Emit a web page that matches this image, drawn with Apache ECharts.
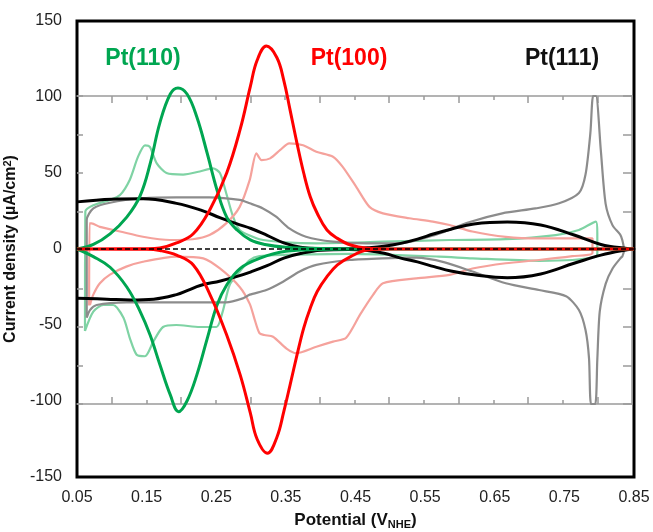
<!DOCTYPE html>
<html><head><meta charset="utf-8">
<script src="https://cdn.jsdelivr.net/npm/echarts@6/dist/echarts.min.js"></script>
<style>html,body{margin:0;padding:0;background:#fff}#c{width:653px;height:532px}</style>
</head><body><div id="c"></div>
<script>
// ---- tick labels / ticks ----
const xLabelValues = [0.05, 0.15, 0.25, 0.35, 0.45, 0.55, 0.65, 0.75, 0.85];
const innerMajorTicks = [0.1, 0.2, 0.3, 0.4, 0.5, 0.6, 0.7, 0.8];
const innerMinorTicks = [0.15, 0.25, 0.35, 0.45, 0.55, 0.65, 0.75];
const curveLabels = ['Pt(110)', 'Pt(100)', 'Pt(111)'];

// ---- simulated CVs (outer axes, -150..150) ----
const pt110SimUpper = [[0.05,0],[0.0735,3],[0.0975,10],[0.1215,21],[0.1406,35],[0.155,56],[0.169,83],[0.184,102],[0.195,106],[0.208,102],[0.222,87],[0.237,63],[0.251,39],[0.265,21],[0.28,12.5],[0.299,6],[0.32,3],[0.35,1.2],[0.4,0.3],[0.45,0],[0.85,0]];
const pt110SimLower = [[0.85,0],[0.45,0],[0.4,-0.3],[0.35,-1.5],[0.313,-6],[0.2845,-12.7],[0.265,-23.7],[0.251,-37],[0.237,-59],[0.222,-83],[0.208,-100],[0.196,-107],[0.184,-96],[0.169,-76],[0.155,-56.6],[0.1406,-41],[0.1215,-25],[0.0975,-12],[0.0735,-5],[0.05,0]];
const pt100SimUpper = [[0.05,0],[0.15,0.2],[0.169,0.7],[0.193,4],[0.217,10],[0.241,26],[0.265,50],[0.2845,79],[0.299,107],[0.3086,124],[0.322,133.5],[0.337,126],[0.347,111],[0.356,91.5],[0.366,69.5],[0.3756,50],[0.385,34.4],[0.395,23.5],[0.409,12.5],[0.424,7],[0.443,2.6],[0.467,0.5],[0.5,0],[0.85,0]];
const pt100SimLower = [[0.85,0],[0.5,0],[0.467,-0.7],[0.443,-5],[0.424,-10.5],[0.409,-18.2],[0.395,-28],[0.385,-39],[0.3756,-52],[0.366,-69.7],[0.356,-89.5],[0.347,-107],[0.337,-124],[0.3235,-134.4],[0.3086,-125],[0.299,-108],[0.2845,-83],[0.265,-56.6],[0.241,-30],[0.217,-10.5],[0.193,-4],[0.169,-1],[0.15,-0.2],[0.05,0]];
const pt111SimUpper = [[0.05,31],[0.1,32.7],[0.145,33],[0.193,30],[0.227,25.7],[0.256,20.5],[0.28,16.5],[0.3,13.5],[0.323,9],[0.347,4],[0.371,1.2],[0.4,0.3],[0.44,0.2],[0.467,0.8],[0.491,1.8],[0.515,3.7],[0.539,6.5],[0.563,10],[0.587,13],[0.62,16.5],[0.668,17.8],[0.716,15.8],[0.764,9.2],[0.8025,3],[0.84,0.3],[0.85,0]];
const pt111SimLower = [[0.85,0],[0.84,-0.5],[0.8025,-4],[0.764,-9.4],[0.716,-16.4],[0.668,-18.9],[0.62,-17],[0.587,-14.5],[0.563,-11.6],[0.539,-8.5],[0.515,-6],[0.491,-2.8],[0.467,-1],[0.44,-0.3],[0.4,-0.8],[0.371,-3],[0.347,-6],[0.323,-11],[0.3,-15],[0.28,-18],[0.256,-21],[0.227,-24],[0.21,-27],[0.193,-30],[0.16,-33],[0.127,-33.5],[0.093,-33],[0.05,-32.4]];
const zeroLine = [[0.05,0],[0.85,0]];

// ---- experimental CVs (inner axes, -100..100) ----
const pt110ExpUpper = [[0.0615,-52.6],[0.062,25],[0.0735,29],[0.0975,32.5],[0.112,35.7],[0.126,45.5],[0.138,60.6],[0.148,68],[0.155,67],[0.165,56.3],[0.179,50],[0.203,49],[0.227,51],[0.246,53],[0.256,50],[0.265,37],[0.275,21.6],[0.2845,13],[0.313,7],[0.35,5],[0.395,4.3],[0.491,5.4],[0.587,6.5],[0.668,7],[0.74,9.7],[0.7735,13],[0.798,18.4],[0.8,10.8],[0.8,-2]];
const pt110ExpLower = [[0.798,-4.3],[0.764,-6.5],[0.716,-7],[0.62,-5.4],[0.572,-4.3],[0.443,-2.5],[0.347,-3.2],[0.313,-4],[0.299,-6.5],[0.2845,-14],[0.27,-22.7],[0.26,-40],[0.251,-50],[0.227,-50],[0.193,-48.7],[0.174,-50],[0.16,-59.5],[0.148,-69],[0.136,-68],[0.126,-57],[0.117,-44],[0.102,-35.7],[0.088,-35.7],[0.0735,-40],[0.0615,-52.6]];
const pt100ExpUpper = [[0.0675,-36],[0.068,17.3],[0.071,17.3],[0.083,15],[0.112,12],[0.145,8.6],[0.184,6.5],[0.217,7],[0.241,9.7],[0.265,17.3],[0.2845,28],[0.299,45.5],[0.3086,62.8],[0.316,58.4],[0.3285,59.5],[0.343,65],[0.356,69.3],[0.376,68],[0.395,63.8],[0.419,60.6],[0.433,54],[0.4525,41],[0.4716,28],[0.491,23.8],[0.529,20.6],[0.563,18.4],[0.587,16.2],[0.62,12],[0.668,8.5],[0.716,7.5],[0.793,7.6],[0.793,-2]];
const pt100ExpLower = [[0.764,-4],[0.716,-6.5],[0.668,-8.6],[0.62,-12],[0.587,-16.2],[0.539,-18.4],[0.491,-21.6],[0.477,-29],[0.458,-42],[0.438,-57],[0.419,-59.5],[0.395,-62.8],[0.366,-67],[0.352,-64],[0.3326,-56.3],[0.32,-55.2],[0.313,-54],[0.306,-45],[0.299,-35],[0.2845,-24],[0.256,-12],[0.232,-5.4],[0.193,-4.3],[0.145,-7.6],[0.121,-10.8],[0.0975,-16],[0.083,-21.6],[0.0735,-29],[0.0687,-35.7]];
const pt111ExpUpper = [[0.064,-44],[0.064,19.5],[0.0735,27],[0.0975,30.7],[0.145,33.6],[0.193,34.2],[0.241,34.2],[0.2845,32.5],[0.299,30.3],[0.318,27],[0.337,21.6],[0.356,14],[0.38,8.6],[0.419,5.4],[0.467,4.3],[0.515,4.3],[0.5675,10],[0.615,18],[0.663,23.8],[0.711,27],[0.745,30.3],[0.7735,37],[0.783,49],[0.79,76],[0.794,100],[0.798,100],[0.805,65],[0.812,30],[0.822,16],[0.833,10],[0.836,6.5],[0.8385,0]];
const pt111ExpLower = [[0.836,-4.3],[0.834,-5],[0.822,-12],[0.812,-22],[0.8035,-40],[0.8,-71],[0.797,-100],[0.791,-100],[0.788,-70],[0.783,-52],[0.7735,-39],[0.755,-30],[0.716,-26],[0.668,-21.6],[0.62,-14],[0.58,-8],[0.539,-5],[0.491,-5.4],[0.443,-6.5],[0.395,-9.7],[0.371,-14],[0.347,-20.6],[0.323,-26],[0.299,-29],[0.289,-31.4],[0.265,-34],[0.193,-34],[0.1215,-34],[0.0783,-35.7],[0.0687,-39],[0.064,-44]];

const FONT = 'Liberation Sans, Arial, sans-serif';
const GREEN = '#00A651', RED = '#FF0000', BLACK = '#000000';
const LGREEN = '#7FD3A4', LRED = '#F5A29C', GRAY = '#8C8C8C';

function innerX(pos, vals, len, showLine) {
  return {
    type: 'value', gridIndex: 1, position: pos, min: 0.05, max: 0.85,
    axisLine: { show: showLine, onZero: false, lineStyle: { color: '#9a9a9a', width: 1.5 } },
    axisTick: { show: true, inside: true, length: len, customValues: vals, lineStyle: { color: '#9a9a9a', width: 1.5 } },
    axisLabel: { show: false }, splitLine: { show: false }
  };
}
function line(data, color, width, xi, yi, z, sm) {
  return {
    type: 'line', data: data, xAxisIndex: xi, yAxisIndex: yi, showSymbol: false, symbol: 'none',
    smooth: sm, lineStyle: { color: color, width: width }, z: z, silent: true, animation: false
  };
}

const chart = echarts.init(document.getElementById('c'));
chart.setOption({
  animation: false,
  backgroundColor: '#fff',
  grid: [
    { left: 77, right: 19, top: 21, bottom: 55, outerBoundsMode: 'none', containLabel: false,
      show: true, borderColor: '#000', borderWidth: 3, backgroundColor: 'transparent' },
    { left: 77, right: 21, top: 96, bottom: 128, outerBoundsMode: 'none', containLabel: false }
  ],
  xAxis: [
    {
      type: 'value', gridIndex: 0, min: 0.05, max: 0.85,
      name: 'Potential (V{sub|NHE})', nameLocation: 'middle', nameGap: 33,
      nameTextStyle: { fontFamily: FONT, fontSize: 17, fontWeight: 'bold', color: '#111',
        rich: { sub: { fontFamily: FONT, fontSize: 11, fontWeight: 'bold', color: '#111', verticalAlign: 'bottom', padding: [9, 0, 0, 0] } } },
      axisLine: { show: false }, axisTick: { show: false }, splitLine: { show: false },
      axisLabel: { customValues: xLabelValues, margin: 13, fontFamily: FONT, fontSize: 16, color: '#222',
        formatter: v => v.toFixed(2) }
    },
    innerX('top', innerMajorTicks, 7, true),
    innerX('top', innerMinorTicks, 4, false),
    innerX('bottom', innerMajorTicks, 7, true),
    innerX('bottom', innerMinorTicks, 4, false)
  ],
  yAxis: [
    {
      type: 'value', gridIndex: 0, min: -150, max: 150, interval: 50,
      name: 'Current density (µA/cm{sup|2})', nameLocation: 'middle', nameGap: 47, nameRotate: 90,
      nameTextStyle: { fontFamily: FONT, fontSize: 16, fontWeight: 'bold', color: '#111',
        rich: { sup: { fontFamily: FONT, fontSize: 11, fontWeight: 'bold', color: '#111', verticalAlign: 'top', padding: [0, 0, 7, 0] } } },
      axisLine: { show: false }, axisTick: { show: false }, splitLine: { show: false },
      axisLabel: { margin: 15, fontFamily: FONT, fontSize: 16, color: '#222' }
    },
    {
      type: 'value', gridIndex: 1, position: 'left', min: -100, max: 100, interval: 25,
      axisLine: { show: false }, axisLabel: { show: false }, splitLine: { show: false },
      axisTick: { show: true, inside: true, length: 6, lineStyle: { color: '#9a9a9a', width: 1.5 } }
    },
    {
      type: 'value', gridIndex: 1, position: 'right', min: -100, max: 100, interval: 25,
      axisLine: { show: true, onZero: false, lineStyle: { color: '#9a9a9a', width: 1.5 } },
      axisLabel: { show: false }, splitLine: { show: false },
      axisTick: { show: true, inside: true, length: 9, lineStyle: { color: '#9a9a9a', width: 1.5 } }
    }
  ],
  graphic: [
    { type: 'text', x: 143, y: 59, z: 100, style: { text: curveLabels[0], fill: GREEN, font: 'bold 23px ' + FONT, align: 'center', verticalAlign: 'middle' } },
    { type: 'text', x: 349, y: 59, z: 100, style: { text: curveLabels[1], fill: RED, font: 'bold 23px ' + FONT, align: 'center', verticalAlign: 'middle' } },
    { type: 'text', x: 562, y: 59, z: 100, style: { text: curveLabels[2], fill: '#111', font: 'bold 23px ' + FONT, align: 'center', verticalAlign: 'middle' } }
  ],
  series: [
    line(pt110ExpUpper.concat(pt110ExpLower), LGREEN, 2.2, 1, 1, 2, 0.25),
    line(pt100ExpUpper.concat(pt100ExpLower), LRED, 2.2, 1, 1, 2, 0.25),
    line(pt111ExpUpper.concat(pt111ExpLower), GRAY, 2.2, 1, 1, 2, 0.25),
    line(pt111SimUpper.concat(pt111SimLower), BLACK, 3, 0, 0, 3, 0.4),
    line(pt110SimUpper.concat(pt110SimLower), GREEN, 3, 0, 0, 4, 0.4),
    line(pt100SimUpper.concat(pt100SimLower), RED, 3, 0, 0, 5, 0.4),
    {
      type: 'line', data: zeroLine, xAxisIndex: 0, yAxisIndex: 0, showSymbol: false, symbol: 'none',
      lineStyle: { color: '#000', width: 1.5, type: [5, 3] }, z: 6, silent: true
    }
  ]
});
</script></body></html>
